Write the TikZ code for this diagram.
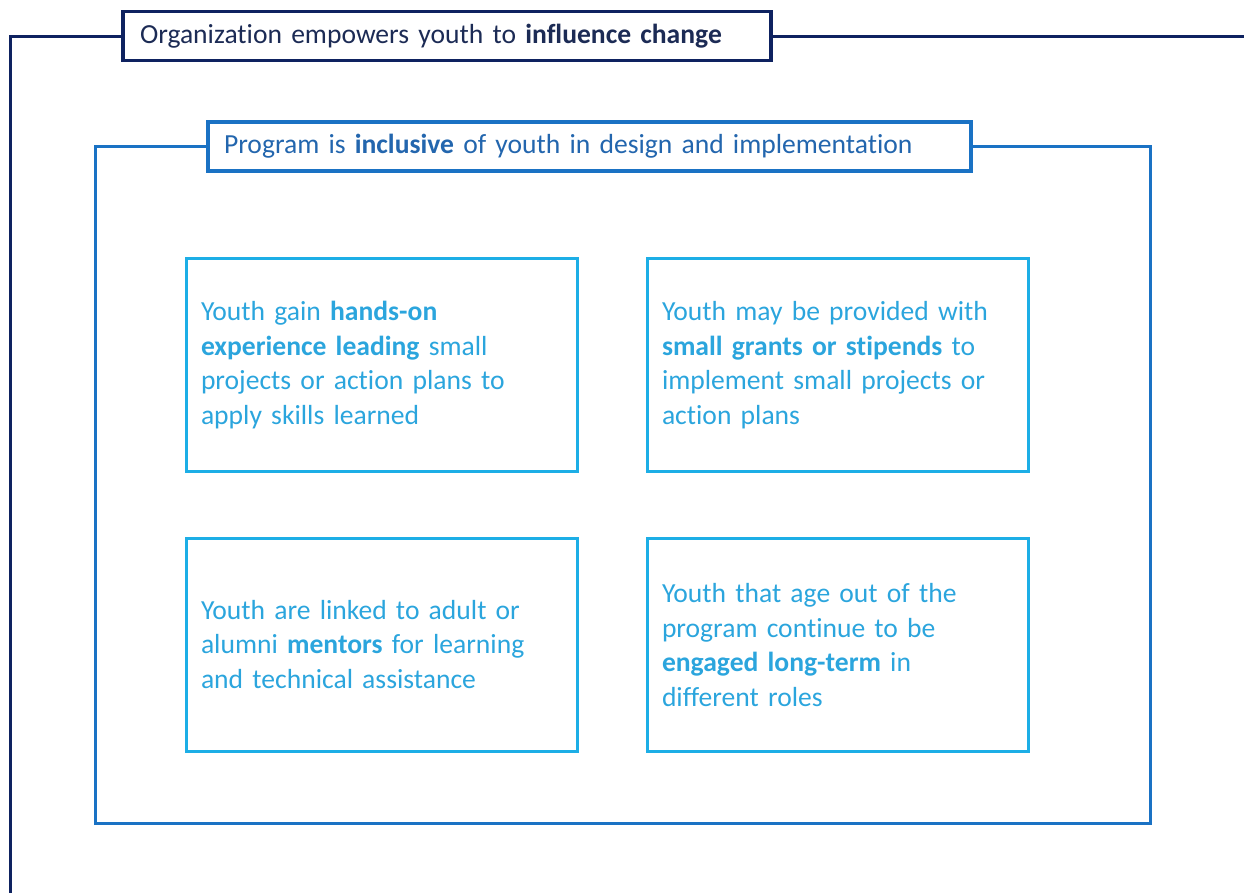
\documentclass[tikz,border=0pt]{standalone}
\usepackage{fontspec}
\setmainfont{Carlito}[Ligatures=NoCommon,RawFeature={-calt}]
\definecolor{navy}{HTML}{0E2260}
\definecolor{navytext}{HTML}{1C2B55}
\definecolor{progblue}{HTML}{1A72C4}
\definecolor{progtext}{HTML}{2366AE}
\definecolor{skyblue}{HTML}{1DAEE6}
\definecolor{skytext}{HTML}{2BA5DD}
\tikzset{
  headbox/.style={draw, fill=white, line width=3.5pt, inner sep=0pt,
    minimum height=49pt, align=left,
    font=\fontsize{27.6}{30}\selectfont},
  orghead/.style={headbox, draw=navy, text=navytext,
    minimum width=648pt, text width=614pt},
  proghead/.style={headbox, draw=progblue, text=progtext,
    minimum width=763pt, text width=731pt},
  item/.style={draw=skyblue, text=skytext, line width=3pt, inner sep=0pt,
    minimum width=391pt, minimum height=213pt, text width=361pt,
    align=left, font=\fontsize{27.6}{34.5}\selectfont},
  itemr/.style={item, minimum width=381pt, text width=351pt},
  orgline/.style={draw=navy, line width=3pt},
  progline/.style={draw=progblue, line width=3pt}
}
\begin{document}
\begin{tikzpicture}[x=1pt,y=-1pt]
\useasboundingbox (0,0) rectangle (1244,892);
  % the two framing headings
  \node[orghead] (org) at (447,36)
    {Organization empowers youth to \textbf{influence change}};
  \node[proghead] (prog) at (589.5,146.5)
    {Program is \textbf{inclusive} of youth in design and implementation};
  % the four activity boxes
  \node[item] (gain) at (381.5,365)
    {Youth gain \textbf{hands-on}\\ \textbf{experience leading} small\\
     projects or action plans to\\ apply skills learned};
  \node[itemr] (grants) at (837.5,365)
    {Youth may be provided with\\ \textbf{small grants or stipends} to\\
     implement small projects or\\ action plans};
  \node[item] (mentors) at (381.5,644.5)
    {Youth are linked to adult or\\ alumni \textbf{mentors} for learning\\
     and technical assistance};
  \node[itemr] (alumni) at (837.5,645)
    {Youth that age out of the\\ program continue to be\\
     \textbf{engaged long-term} in\\ different roles};
  % frame corners
  \coordinate (o1) at (10,36);
  \coordinate (o2) at (10,893);
  \coordinate (o3) at (1245,36);
  \coordinate (i1) at (95,146.5);
  \coordinate (i2) at (95,823);
  \coordinate (i3) at (1150,823);
  \coordinate (i4) at (1150,146.5);
  \draw[orgline] (org.west) -- (o1) -- (o2);
  \draw[orgline] (org.east) -- (o3);
  \draw[progline] (prog.west) -- (i1) -- (i2) -- (i3) -- (i4) -- (prog.east);
\end{tikzpicture}
\end{document}
